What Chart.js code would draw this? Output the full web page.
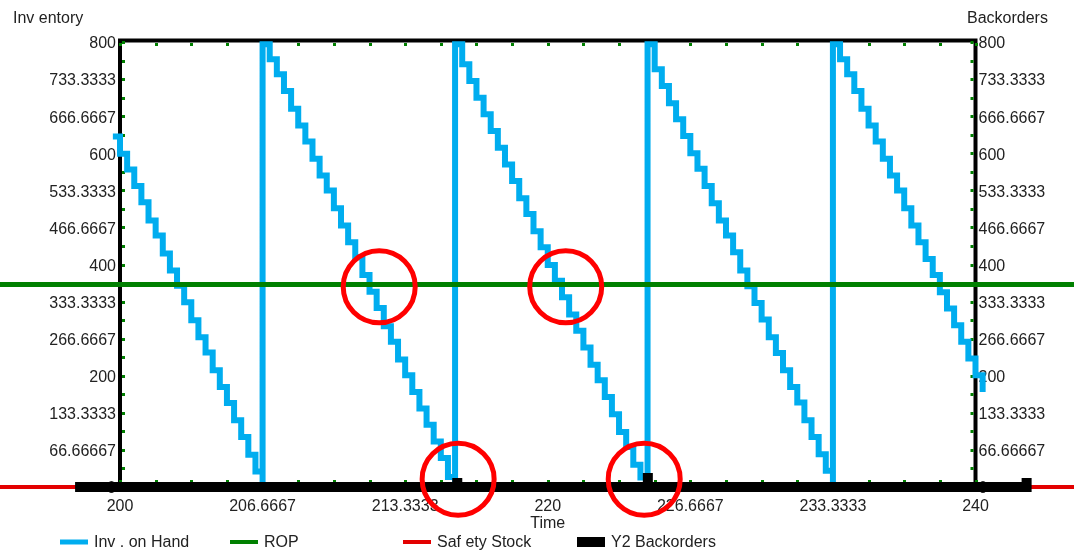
<!DOCTYPE html>
<html>
<head>
<meta charset="utf-8">
<script src="https://cdn.jsdelivr.net/npm/chart.js@4.4.1/dist/chart.umd.min.js"></script>
<style>
  html, body { margin: 0; padding: 0; background: #fff; }
</style>
</head>
<body>
<canvas id="chart-inventory" width="1074" height="552"></canvas>
<script>
// axis ticks (labels shown at these values)
var timeTicks = [200, 206.66667, 213.33333, 220, 226.66667, 233.33333, 240];
var levelTicks = [0, 66.666667, 133.33333, 200, 266.66667, 333.33333, 400,
    466.66667, 533.33333, 600, 666.66667, 733.33333, 800];

// inventory on hand, one level per 1/3 time unit, per replenishment cycle
var stepDt = 1 / 3;
var cycleStarts = [199.66667, 206.66667, 215.66667, 224.66667, 233.33333];
var invCycle1 = [630, 599, 571, 541, 512, 479, 452, 420, 389, 362, 332, 300, 269, 242, 210, 180, 151, 120, 90, 58, 28];
var invCycle2 = [796, 769, 742, 712, 680, 650, 621, 590, 560, 533, 501, 470, 440, 413, 381, 351, 322, 289, 261, 229, 201, 171, 141, 112, 82, 52, 18];
var invCycle3 = [796, 760, 730, 700, 670, 640, 610, 580, 550, 519, 491, 460, 431, 399, 371, 341, 310, 281, 251, 220, 192, 162, 131, 99, 72, 40, 17];
var invCycle4 = [796, 751, 721, 690, 661, 631, 600, 572, 541, 510, 479, 452, 422, 389, 361, 331, 301, 269, 241, 210, 180, 152, 120, 90, 59, 29];
var invCycle5 = [796, 769, 742, 712, 680, 650, 621, 590, 560, 533, 501, 470, 440, 410, 381, 350, 321, 291, 261, 231, 201, 171];
var stockOutLevel = 0; // stock touches zero right before each delivery

// constant lines
var ropLevel = 364;
var safetyStockLevel = 0;
var constLineTimes = [194, 246];

// backorders (Y2)
var backorderStart = 197.9;
var backorderTimes = [215.77, 224.68, 242.39];
var backorderValues = [16, 25, 16];

// red marker circles
var circleTimes = [212.12, 220.84, 215.81, 224.51];
var circleLevels = [360, 360, 14, 14];

var FONT = '"Liberation Sans", Arial, sans-serif';
var TEXT = '#222';

function fmt(v) {
    return String(Number(Number(v).toPrecision(7)));
}

function inventoryPoints() {
    var cycles = [invCycle1, invCycle2, invCycle3, invCycle4, invCycle5];
    var pts = [];
    cycles.forEach(function (levels, c) {
        if (c > 0) pts.push({ x: cycleStarts[c], y: stockOutLevel });
        levels.forEach(function (v, i) {
            pts.push({ x: cycleStarts[c] + i * stepDt, y: v });
        });
    });
    return pts;
}

function constPoints(level) {
    return constLineTimes.map(function (t) { return { x: t, y: level }; });
}

function backorderPoints() {
    var pts = [{ x: backorderStart, y: 0 }];
    backorderTimes.forEach(function (t, i) {
        pts.push({ x: t, y: 0 }, { x: t, y: backorderValues[i] }, { x: t, y: 0 });
    });
    return pts;
}

function minorTicks(major, parts) {
    var out = [];
    for (var i = 0; i < major.length - 1; i++) {
        for (var k = 0; k < parts; k++) {
            out.push(major[i] + (major[i + 1] - major[i]) * k / parts);
        }
    }
    out.push(major[major.length - 1]);
    return out;
}

var legendX = [60, 230, 403, 577];
var legendLine = [5, 4, 4, 10];

var decorations = {
    id: 'decorations',
    beforeDatasetsDraw: function (chart) {
        var ctx = chart.ctx, a = chart.chartArea;
        var xs = chart.scales.x, ys = chart.scales.y;
        ctx.save();
        ctx.strokeStyle = '#000';
        ctx.lineWidth = 4;
        ctx.strokeRect(a.left, a.top - 1.5, a.right - a.left, a.bottom - a.top + 1.5);
        ctx.fillStyle = '#008000';
        minorTicks(timeTicks, 4).forEach(function (t) {
            var px = Math.round(xs.getPixelForValue(t));
            ctx.fillRect(px - 1, a.top + 1, 3, 3);
            ctx.fillRect(px - 1, a.bottom - 7, 3, 3);
        });
        minorTicks(levelTicks, 2).forEach(function (v) {
            var py = Math.round(ys.getPixelForValue(v));
            ctx.fillRect(a.left + 2, py - 1, 3, 3);
            ctx.fillRect(a.right - 5, py - 1, 3, 3);
        });
        ctx.restore();
    },
    afterDatasetsDraw: function (chart) {
        var ctx = chart.ctx;
        var xs = chart.scales.x, ys = chart.scales.y;
        ctx.save();
        ctx.strokeStyle = '#ff0000';
        ctx.lineWidth = 5;
        circleTimes.forEach(function (t, i) {
            ctx.beginPath();
            ctx.arc(xs.getPixelForValue(t), ys.getPixelForValue(circleLevels[i]), 36, 0, Math.PI * 2);
            ctx.stroke();
        });
        ctx.restore();
    },
    afterDraw: function (chart) {
        var ctx = chart.ctx;
        ctx.save();
        ctx.font = '16px ' + FONT;
        ctx.fillStyle = TEXT;
        ctx.textBaseline = 'alphabetic';
        ctx.fillText('Inv entory', 13, 23);
        ctx.fillText('Backorders', 967, 23);
        chart.data.datasets.forEach(function (ds, i) {
            var x0 = legendX[i];
            ctx.strokeStyle = ds.borderColor;
            ctx.lineWidth = legendLine[i];
            ctx.beginPath();
            ctx.moveTo(x0, 542);
            ctx.lineTo(x0 + 28, 542);
            ctx.stroke();
            ctx.fillStyle = TEXT;
            ctx.fillText(ds.label, x0 + 34, 547);
        });
        ctx.restore();
    }
};

var tickFont = { family: FONT, size: 16 };

var config = {
    type: 'line',
    data: {
        datasets: [{
            label: 'Inv . on Hand',
            data: inventoryPoints(),
            borderColor: '#00adef',
            borderWidth: 6,
            stepped: true,
            clip: false,
            order: 4,
            yAxisID: 'y'
        }, {
            label: 'ROP',
            data: constPoints(ropLevel),
            borderColor: '#008000',
            borderWidth: 5,
            clip: false,
            order: 3,
            yAxisID: 'y'
        }, {
            label: 'Saf ety Stock',
            data: constPoints(safetyStockLevel),
            borderColor: '#e30000',
            borderWidth: 4,
            clip: false,
            order: 2,
            yAxisID: 'y'
        }, {
            label: 'Y2 Backorders',
            data: backorderPoints(),
            borderColor: '#000000',
            borderWidth: 10,
            clip: false,
            order: 1,
            yAxisID: 'y2'
        }]
    },
    options: {
        responsive: false,
        animation: false,
        layout: { padding: { top: 42, left: 0, right: 0, bottom: 0 } },
        elements: { point: { radius: 0 }, line: { tension: 0 } },
        plugins: { legend: { display: false }, tooltip: { enabled: false } },
        scales: {
            x: {
                type: 'linear',
                position: 'bottom',
                bounds: 'data',
                afterDataLimits: function (s) { s.min = 200; s.max = 240; },
                afterBuildTicks: function (s) {
                    s.ticks = timeTicks.map(function (v) { return { value: v }; });
                },
                afterFit: function (s) { s.height = 65; },
                grid: { display: false, drawTicks: false },
                border: { display: false },
                ticks: { autoSkip: false, maxRotation: 0, padding: 10, color: TEXT, font: tickFont, callback: fmt },
                title: { display: true, text: 'Time', color: TEXT, font: tickFont, padding: { top: 0, bottom: 19 } }
            },
            y: {
                position: 'left',
                min: 0,
                max: 800,
                afterBuildTicks: function (s) {
                    s.ticks = levelTicks.map(function (v) { return { value: v }; });
                },
                afterFit: function (s) { s.width = 120; },
                grid: { display: false, drawTicks: false },
                border: { display: false },
                ticks: { autoSkip: false, padding: 4, labelOffset: 2, color: TEXT, font: tickFont, callback: fmt }
            },
            y2: {
                position: 'right',
                min: 0,
                max: 800,
                afterBuildTicks: function (s) {
                    s.ticks = levelTicks.map(function (v) { return { value: v }; });
                },
                afterFit: function (s) { s.width = 98.5; },
                grid: { display: false, drawTicks: false },
                border: { display: false },
                ticks: { autoSkip: false, padding: 3, labelOffset: 2, color: TEXT, font: tickFont, callback: fmt }
            }
        }
    },
    plugins: [decorations]
};

window.onload = function () {
    var ctx = document.getElementById('chart-inventory').getContext('2d');
    window.invChart = new Chart(ctx, config);
};
</script>
</body>
</html>
